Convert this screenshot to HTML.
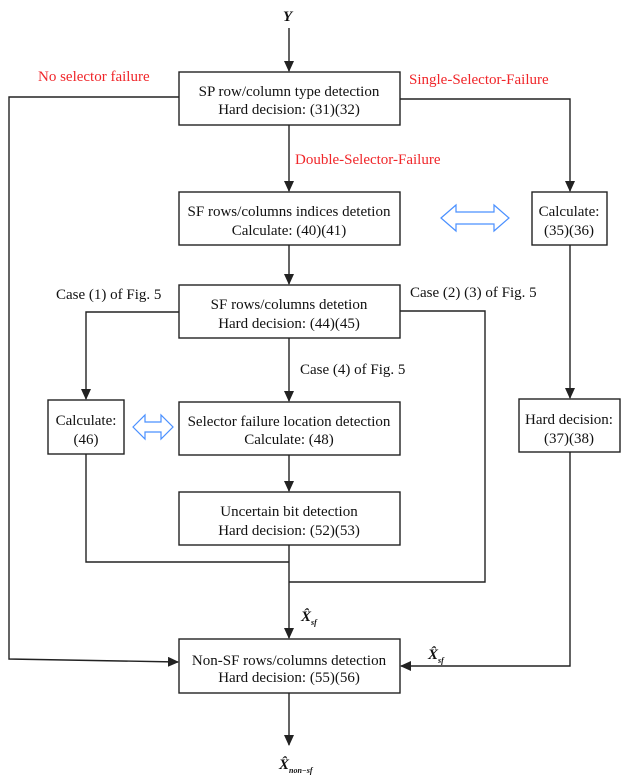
<!DOCTYPE html>
<html><head><meta charset="utf-8"><style>
html,body{margin:0;padding:0;background:#fff;}
svg{display:block;}
svg text{font-family:"Liberation Serif","DejaVu Serif",serif;font-size:15px;fill:#111;}
svg text.r{fill:#f0262a;}
</style></head><body>
<svg width="622" height="780" viewBox="0 0 622 780" font-family="Liberation Serif, serif" font-size="15">
<defs><marker id="a" markerWidth="12" markerHeight="12" refX="10" refY="5" orient="auto" markerUnits="userSpaceOnUse"><path d="M0,0 L11,5 L0,10 z" fill="#222"/></marker></defs>
<g stroke="#222" stroke-width="1.4" fill="none">
<rect x="179" y="72" width="221" height="53"/>
<rect x="179" y="192" width="221" height="53"/>
<rect x="532" y="192" width="75" height="53"/>
<rect x="179" y="285" width="221" height="53"/>
<rect x="48" y="400" width="76" height="54"/>
<rect x="179" y="402" width="221" height="53"/>
<rect x="519" y="399" width="101" height="53"/>
<rect x="179" y="492" width="221" height="53"/>
<rect x="179" y="639" width="221" height="54"/>
<line x1="289" y1="28" x2="289" y2="71" marker-end="url(#a)"/>
<line x1="289" y1="125" x2="289" y2="191" marker-end="url(#a)"/>
<line x1="289" y1="245" x2="289" y2="284" marker-end="url(#a)"/>
<line x1="289" y1="338" x2="289" y2="401" marker-end="url(#a)"/>
<line x1="289" y1="455" x2="289" y2="491" marker-end="url(#a)"/>
<line x1="289" y1="545" x2="289" y2="638" marker-end="url(#a)"/>
<line x1="289" y1="693" x2="289" y2="745" marker-end="url(#a)"/>
<polyline points="179,97 9,97 9,659 178,662" marker-end="url(#a)"/>
<polyline points="400,99 570,99 570,191" marker-end="url(#a)"/>
<line x1="570" y1="245" x2="570" y2="398" marker-end="url(#a)"/>
<polyline points="570,452 570,666 401,666" marker-end="url(#a)"/>
<polyline points="179,312 86,312 86,399" marker-end="url(#a)"/>
<polyline points="86,454 86,562 289,562"/>
<polyline points="400,311 485,311 485,582 289,582"/>
</g>
<g stroke="#4a90ff" stroke-width="1.2" fill="#fff">
<path d="M441,218 L456,205 L456,212 L494,212 L494,205 L509,218 L494,231 L494,224 L456,224 L456,231 Z"/>
<path d="M133,427 L145,415 L145,422 L161,422 L161,415 L173,427 L161,439 L161,432 L145,432 L145,439 Z"/>
</g>
<g text-anchor="middle">
<text x="289" y="96">SP row/column type detection</text>
<text x="289" y="114">Hard decision: (31)(32)</text>
<text x="289" y="216">SF rows/columns indices detetion</text>
<text x="289" y="235">Calculate: (40)(41)</text>
<text x="569" y="216">Calculate:</text>
<text x="569" y="235">(35)(36)</text>
<text x="289" y="309">SF rows/columns detetion</text>
<text x="289" y="328">Hard decision: (44)(45)</text>
<text x="86" y="425">Calculate:</text>
<text x="86" y="444">(46)</text>
<text x="289" y="426">Selector failure location detection</text>
<text x="289" y="444">Calculate: (48)</text>
<text x="569" y="424">Hard decision:</text>
<text x="569" y="443">(37)(38)</text>
<text x="289" y="516">Uncertain bit detection</text>
<text x="289" y="535">Hard decision: (52)(53)</text>
<text x="289" y="665">Non-SF rows/columns detection</text>
<text x="289" y="682">Hard decision: (55)(56)</text>
</g>
<text x="283" y="21" font-weight="bold" font-style="italic">Y</text>
<text x="38" y="81" class="r">No selector failure</text>
<text x="409" y="84" class="r">Single-Selector-Failure</text>
<text x="295" y="164" class="r">Double-Selector-Failure</text>
<text x="56" y="299">Case (1) of Fig. 5</text>
<text x="410" y="297">Case (2) (3) of Fig. 5</text>
<text x="300" y="374">Case (4) of Fig. 5</text>
<text x="301" y="621" font-weight="bold" font-style="italic">X̂<tspan font-size="8" dy="4">sf</tspan></text>
<text x="428" y="659" font-weight="bold" font-style="italic">X̂<tspan font-size="8" dy="4">sf</tspan></text>
<text x="279" y="769" font-weight="bold" font-style="italic">X̂<tspan font-size="8" dy="4">non−sf</tspan></text>
</svg>
</body></html>
